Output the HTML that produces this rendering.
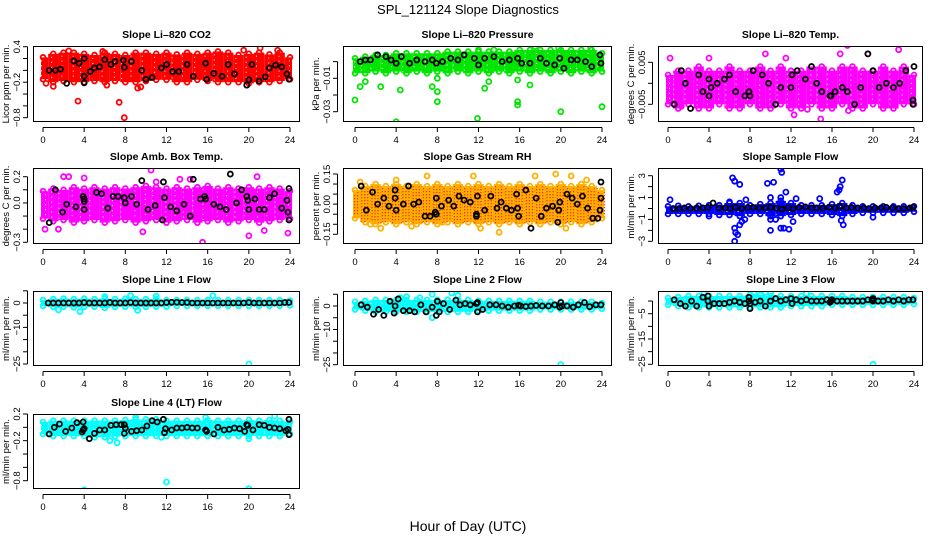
<!DOCTYPE html>
<html><head><meta charset="utf-8"><title>SPL_121124 Slope Diagnostics</title>
<style>
html,body{margin:0;padding:0;background:#fff;}
svg{display:block;font-family:"Liberation Sans",Arial,sans-serif;}
</style></head>
<body>
<svg id="chart" width="936" height="540" viewBox="0 0 936 540" xmlns="http://www.w3.org/2000/svg">
<rect x="0" y="0" width="936" height="540" fill="#fff"/>
<text x="468" y="14" text-anchor="middle" font-size="13">SPL_121124  Slope Diagnostics</text>
<text x="468" y="531" text-anchor="middle" font-size="14">Hour of Day (UTC)</text>
</svg>
<script>
// ---- data (per-hour band ranges of the dense cloud, outliers, and black points) ----
const binHours = [0,1,2,3,4,5,6,7,8,9,10,11,12,13,14,15,16,17,18,19,20,21,22,23,24];
const xTickValues = [0,4,8,12,16,20,24];

const co2Lo = [-0.15,-0.2,-0.18,-0.2,-0.2,-0.18,-0.2,-0.18,-0.2,-0.2,-0.18,-0.16,-0.16,-0.2,-0.2,-0.16,-0.18,-0.2,-0.2,-0.2,-0.22,-0.2,-0.2,-0.18,-0.15];
const co2Hi = [0.22,0.28,0.3,0.3,0.28,0.26,0.3,0.28,0.26,0.3,0.3,0.28,0.3,0.27,0.3,0.28,0.3,0.32,0.3,0.26,0.28,0.3,0.27,0.3,0.22];
const co2OutH = [0.3,1,3.4,7.4,7.9,9.2,9.5,2.5,5.8,6.2,19.5,21.1,22.8];
const co2OutV = [-0.22,-0.27,-0.52,-0.54,-0.8,-0.3,-0.28,0.33,0.32,-0.25,0.34,0.38,0.34];
const co2BlkH = [0.6,1.2,1.7,2.3,3,3.5,4,4,4,4.6,5,5.5,6,6.6,7,7.8,7.9,8.6,9.6,10,10.6,11.5,12,12.6,13.2,14,14.6,15.8,15.9,16.6,17.4,18,18.6,19.8,20,20.3,21,21.6,22,22.6,23.2,23.7,23.9];
const co2BlkV = [0,0,0.02,-0.22,0.16,0.12,0.2,-0.1,-0.21,-0.02,0.04,0.06,0.18,0.1,0.15,0.17,0.05,0.15,0,-0.15,-0.12,0.04,0.1,-0.02,-0.02,0.1,-0.1,0.12,-0.15,-0.05,-0.1,0.1,-0.06,-0.25,-0.16,0.1,-0.18,-0.11,0.04,0.09,0.06,-0.06,-0.15];

const prsLo = [-0.007,-0.007,-0.006,-0.007,-0.006,-0.007,-0.006,-0.007,-0.006,-0.007,-0.006,-0.007,-0.006,-0.007,-0.006,-0.007,-0.006,-0.007,-0.006,-0.007,-0.006,-0.007,-0.006,-0.007,-0.006];
const prsHi = [0.002,0.003,0.004,0.004,0.005,0.005,0.005,0.005,0.005,0.006,0.006,0.006,0.006,0.006,0.006,0.006,0.007,0.007,0.007,0.007,0.007,0.007,0.007,0.007,0.005];
const prsOutH = [0,0.5,1,2.5,4,4.4,7.5,8,8,8,11.9,12.6,13,15.8,15.8,15.8,17,20,24,17.5,12,13.5,19.8,22.9];
const prsOutV = [-0.023,-0.015,-0.012,-0.015,-0.036,-0.017,-0.015,-0.024,-0.018,-0.01,-0.034,-0.016,-0.012,-0.026,-0.024,-0.011,-0.014,-0.030,-0.027,0.009,0.007,0.007,0.008,0.008];
const prsBlkH = [0.5,1,1.5,2.2,3,3.5,4,4.5,5.3,6,6.8,7.5,7.9,8.5,9.3,10,10.6,11.6,12,12.6,13.5,14.3,15,15.8,16.2,17,18,18.6,19.4,19.9,20.3,21,21.6,22.4,23,23.8,23.9];
const prsBlkV = [0,0.001,0.001,0.004,0.003,0.001,-0.001,0.003,-0.001,0.001,0,0.001,-0.001,0,0.002,0.001,0.004,0.002,-0.002,0.002,0.003,0,0.001,0.002,-0.001,-0.001,0.002,-0.001,-0.002,0.002,-0.004,0.001,0.001,0,-0.003,0.004,-0.001];

const tmpLo = [-0.005,-0.006,-0.005,-0.006,-0.006,-0.005,-0.006,-0.006,-0.005,-0.006,-0.006,-0.005,-0.006,-0.006,-0.005,-0.006,-0.006,-0.005,-0.006,-0.006,-0.005,-0.006,-0.006,-0.005,-0.005];
const tmpHi = [0.002,0.003,0.003,0.004,0.003,0.003,0.004,0.003,0.003,0.004,0.003,0.004,0.003,0.003,0.004,0.004,0.003,0.004,0.004,0.003,0.003,0.004,0.003,0.004,0.002];
const tmpOutH = [17.5,22.5,0.2,4,11.5,19.5,12.3,14.9,17.6,1.3,9.5,13.6,16.8];
const tmpOutV = [0.009,0.008,0.006,0.006,0.006,0.007,-0.0075,-0.0085,-0.0065,-0.0055,0.007,-0.0062,0.007];
const tmpBlkH = [0.6,1.3,1.7,2.2,3,3.4,4,4,4.2,4.8,5.5,6,6.6,7.5,7.9,8,8.3,9.2,9.8,10.5,11,12,12.1,12.6,13.4,14,14.5,15,15.8,15.9,16.3,17,17.5,18.2,18.8,19.5,20,20.6,21.3,22,22.6,23.2,23.9,23.9,24];
const tmpBlkV = [-0.005,0.003,0,-0.006,0.002,-0.002,0.001,-0.003,-0.001,0,0.001,0.002,-0.002,-0.003,-0.002,-0.003,0.003,0.002,0,-0.005,-0.001,-0.001,0.002,0.003,0.001,0.004,0.0,-0.002,-0.003,-0.003,-0.002,-0.001,-0.002,-0.005,-0.001,0.007,0.003,-0.001,0,-0.001,0,0.003,-0.004,-0.005,0.004];

const ambLo = [-0.12,-0.14,-0.13,-0.15,-0.14,-0.13,-0.15,-0.14,-0.13,-0.15,-0.14,-0.13,-0.15,-0.14,-0.13,-0.15,-0.14,-0.13,-0.15,-0.14,-0.13,-0.15,-0.14,-0.13,-0.12];
const ambHi = [0.09,0.11,0.1,0.12,0.11,0.12,0.11,0.12,0.11,0.12,0.13,0.12,0.11,0.12,0.11,0.12,0.13,0.11,0.12,0.11,0.12,0.11,0.12,0.11,0.09];
const ambOutH = [0.2,1.5,2,2.5,10.5,15.5,20,20.8,23.8,9.7,14.3,13.3,4,11,21.5];
const ambOutV = [-0.2,-0.2,0.2,0.2,0.25,-0.3,-0.25,0.2,-0.23,-0.22,0.18,0.18,0.19,0.16,-0.21];
const ambBlkH = [0.6,1.2,1.9,2.3,3.2,3.9,4,4,4,5.2,5.7,6.3,6.8,7.3,7.9,8,8.6,9.1,9.6,10.2,10.9,11.6,11.7,11.8,12.4,13,13.7,14.3,14.6,15.3,15.7,15.8,16.6,17.2,17.8,18.2,18.8,19.3,19.8,19.9,20,20.6,21,21.5,22,22.5,23.2,23.7,23.8,23.9,23.9];
const ambBlkV = [-0.15,0.1,-0.07,-0.01,-0.03,0.05,0.03,0.01,-0.05,0.08,0.07,-0.04,0.05,0.05,0.04,0,0.05,-0.01,0.17,-0.05,-0.02,-0.13,0.16,0.04,-0.03,-0.06,-0.01,-0.1,0.18,0.03,0.05,0.03,-0.01,-0.03,-0.05,0.22,0,0.1,0.05,0.02,-0.05,0.03,-0.05,-0.05,0.04,0.07,-0.04,0.02,-0.07,-0.13,0.11];

const rhLo = [-0.07,-0.09,-0.1,-0.09,-0.1,-0.09,-0.1,-0.09,-0.1,-0.09,-0.1,-0.09,-0.1,-0.09,-0.1,-0.09,-0.1,-0.09,-0.1,-0.09,-0.1,-0.09,-0.1,-0.09,-0.07];
const rhHi = [0.07,0.09,0.1,0.09,0.1,0.09,0.1,0.09,0.1,0.09,0.1,0.09,0.1,0.09,0.1,0.09,0.1,0.09,0.1,0.09,0.1,0.09,0.1,0.09,0.07];
const rhOutH = [2.5,14,7,11.5,17.5,19.5,21,5.5,4,0.5,8.5,20.5,22.5,12.2,1.5];
const rhOutV = [-0.12,-0.14,0.14,0.14,0.14,0.15,0.14,-0.11,0.12,0.11,-0.09,-0.12,0.12,-0.12,-0.1];
const rhBlkH = [0.6,1.1,1.7,2.2,2.8,3.3,3.9,3.9,4,4.7,5.2,5.7,6.2,6.8,7.3,7.8,7.9,7.9,8.4,9.1,9.6,10.1,10.6,11.2,11.8,11.8,11.9,12.6,13.2,13.8,14.2,14.7,15.2,15.7,15.8,15.9,16.6,17.1,17.6,18.1,18.6,19.2,19.7,19.8,19.9,20.6,21.1,21.6,22.1,22.6,23.1,23.6,23.8,23.9,23.9];
const rhBlkV = [0.09,-0.03,0.06,0,0.03,-0.01,0.07,0.03,-0.03,0,0.09,0,0.01,-0.06,-0.06,-0.04,0.03,-0.05,-0.01,0.02,-0.01,0.04,0.02,0.01,-0.05,-0.06,0.04,-0.03,0.04,-0.02,0.01,-0.02,-0.03,0.05,-0.02,-0.06,0.07,-0.12,0.03,-0.06,-0.02,-0.01,-0.09,-0.03,0.01,0.05,0.03,0,0.04,-0.02,-0.07,-0.07,-0.03,0.03,0.11];

const smpLo = [-0.5,-0.5,-0.5,-0.5,-0.5,-0.6,-0.6,-0.7,-0.5,-0.5,-0.7,-0.7,-0.6,-0.5,-0.5,-0.5,-0.6,-0.7,-0.5,-0.4,-0.4,-0.4,-0.4,-0.4,-0.3];
const smpHi = [0.2,0.25,0.2,0.25,0.3,0.3,0.5,0.5,0.3,0.4,0.5,0.7,0.5,0.3,0.3,0.3,0.4,0.5,0.3,0.2,0.2,0.2,0.2,0.2,0.2];
const smpOutH = [6.3,6.5,7,6.5,6.6,6.8,6.5,7.5,7,9.7,10.3,11,11.1,11,11.3,11.8,10,10,10.5,12.2,11.5,11,16.5,16.8,17,16.9,17.1,10,14.8,0.2,6,7.2,4,20,12.5,16.7,7.6];
const smpOutV = [2.8,2.5,2.2,-1.8,-2.2,-2.4,-3,-1,-1.5,2.3,2.4,3.6,3.3,-1.8,-1.8,-1.9,-2.0,-1,-1,-1.2,1.5,1,1.5,2,2.6,-1.1,-1.5,1,0.9,0.8,0.6,-1.2,-0.7,-0.8,0.9,1.7,0.8];
const smpBlkH = [0.5,1.1,1.6,2.2,2.8,3.4,3.9,4.4,5,5.6,6.1,6.6,7.2,7.8,8.3,8.9,9.5,10,10.6,11.1,11.7,12.2,12.8,13.4,14,14.5,15.1,15.7,16.3,16.8,17.4,17.9,18.5,19.1,19.6,20.2,20.8,21.3,21.9,22.5,23,23.6,23.9];
const smpBlkV = [0,0,0.05,0,0.05,0.05,0.1,0.5,0.05,0.05,0,0.1,0,0.1,0.1,0.05,0.05,0.1,0.05,-0.05,0.05,0,0.1,0.15,0.05,0.05,0.05,0.1,0.05,0.2,0.05,0.1,0.05,0.05,0,0.05,0.05,0.1,0.05,0,0,0.05,0.1];

const l1Lo = [-1.2,-1.6,-1.5,-1.8,-1.6,-1.5,-2,-1.6,-1.5,-1.6,-1.6,-1.5,-1.5,-1.2,-1.2,-1.2,-1.2,-1.2,-1.2,-1.2,-1.2,-1.2,-1.2,-1.2,-1];
const l1Hi = [1.2,1.6,1.8,1.6,1.8,1.6,1.8,1.6,1.8,1.6,1.6,1.6,1.2,1.2,1.2,1.2,1.2,1.2,1.2,1.2,1.2,1.2,1.2,1.2,1];
const l1OutH = [20,8.5,16.5,3.6,6,1.5,9.2,11];
const l1OutV = [-25,3,3,-3.5,2.6,-2.8,-3,2.8];
const l1BlkH = [0.5,1,1.5,2,2.5,3,3.5,4,4.5,5,5.5,6,6.5,7,7.5,8,8.5,9,9.5,10,10.5,11,11.5,12,12.5,13,13.5,14,14.5,15,15.5,16,16.5,17,17.5,18,18.5,19,19.5,20,20.5,21,21.5,22,22.5,23,23.5,23.9];
const l1BlkV = [0,0,0,0,0,0,0,0.2,0,0,0,0,0.2,0,0,0,0.2,0,0,0,0,0,0,0.2,0.3,0.3,0.2,0.2,0,0,0,0,0,0,0,0,0,0,0,0.2,0,0,0,0,0,0,0.2,0.2];

const l2Lo = [-1.5,-2,-2.5,-2.5,-2.5,-2.5,-2.5,-2.5,-2.5,-2.5,-2.5,-2.5,-2,-2,-2,-2,-2,-2,-1.5,-1.5,-1.5,-1.5,-1.5,-1.5,-1.2];
const l2Hi = [1.8,2.2,2.6,2.6,2.6,2.6,2.6,2.6,2.6,2.6,2.6,2.6,2.2,2.2,2.2,2.2,2.2,2.2,1.8,1.8,1.8,1.8,1.8,1.8,1.2];
const l2OutH = [20,5,7.5,7.5,4.4,9.4,10,6.3];
const l2OutV = [-25,4,5,-5,3.5,5.5,4.5,3.5];
const l2BlkH = [0.6,1.2,1.8,2.3,2.8,3.4,3.8,3.9,4.2,4.7,5.3,5.8,6.4,6.9,7.5,7.9,8,8.2,8.6,9.2,9.8,10.2,10.7,11.2,11.8,11.9,11.9,12.4,13.1,13.7,14.3,14.9,15.5,15.9,16.1,16.6,17.1,17.6,18.2,18.8,19.4,19.9,20,20.1,20.6,21.2,21.7,22.3,22.8,23.4,23.9];
const l2BlkV = [0.5,-0.5,-3.5,-1.5,-4,2,-3,0,3,-2,-2,-2.5,0.5,-2.5,-0.5,-4,2,-2.5,1,-1.5,2.5,0.5,1,0.5,1,-2.5,1.5,-1.5,0.5,0.5,0,-0.5,0,0.3,0,-0.2,0,0.2,0,0,0.5,-0.5,1.5,0,0,-0.5,0.5,1.5,-0.3,0.5,0.5];

const l3Lo = [-1.5,-2,-2.5,-2.5,-2.5,-2.5,-2.5,-2.5,-2.5,-2.5,-2.5,-2.5,-2,-2,-2,-2,-1.5,-1.5,-1.5,-1.5,-1.5,-1.5,-1.5,-1.5,-1.2];
const l3Hi = [1.2,1.6,2,2,2,2,2,2,2.5,2.5,2,2,2,2,2,2,2,2,1.6,1.6,1.6,1.6,1.6,1.6,1.2];
const l3OutH = [20,8.4,9.5,10,3.5,13.5];
const l3OutV = [-25,3.5,3.5,3,3,3];
const l3BlkH = [0.6,1.2,1.7,2.3,2.8,3.4,3.9,3.9,4,4.5,5,5.5,6,6.5,7,7.5,7.9,7.9,8,8,8.5,9,9.5,10,10.5,11,11.5,12,12.1,12.5,13,13.5,14,14.5,15,15.5,15.8,15.9,16,16.5,17,17.5,18,18.5,19,19.5,19.9,20,20,20.5,21,21.5,22,22.5,23,23.5,23.9];
const l3BlkV = [0.5,-1,-2,0,-2,1.5,0,2,-2,-1,-1,-1,-0.5,0,-0.5,-1,1.5,0,-1,-3,-0.5,0,-2,0,1,0,0.5,1,-1,0.5,0,0.5,0,0,0,0.5,-0.5,0,0.5,0,0,0,0,0,0,0.5,0.5,1,0,0,0,0.5,0,0.5,0,0.5,0.5];

const l4Lo = [-0.1,-0.13,-0.13,-0.13,-0.13,-0.15,-0.15,-0.14,-0.13,-0.13,-0.13,-0.13,-0.13,-0.13,-0.13,-0.13,-0.13,-0.13,-0.13,-0.13,-0.13,-0.13,-0.13,-0.13,-0.1];
const l4Hi = [0.08,0.1,0.1,0.1,0.1,0.1,0.1,0.1,0.11,0.12,0.12,0.12,0.1,0.1,0.1,0.1,0.11,0.1,0.1,0.1,0.11,0.1,0.11,0.1,0.08];
const l4OutH = [4,12,20,7.2,6.5,9,22.5,20,15.8,11.5];
const l4OutV = [-0.94,-0.82,-0.92,-0.23,-0.2,0.15,0.17,-0.17,0.15,-0.15];
const l4BlkH = [0.6,1.1,1.6,2.2,2.8,3.3,3.8,3.9,3.9,4,4.5,5,5.5,6,6.6,7.1,7.6,7.9,7.9,8,8.6,9.1,9.6,10.1,10.6,11.1,11.7,11.8,11.9,12.5,13,13.5,14,14.5,15,15.8,15.9,16.6,17,17.6,18.1,18.6,19.1,19.6,19.8,19.9,20.4,21,21.5,22,22.5,23,23.6,23.8,23.9,23.9];
const l4BlkV = [-0.1,0,0.05,-0.06,-0.01,0.07,-0.07,0.08,-0.04,-0.02,-0.17,-0.09,-0.04,-0.04,0.03,0.04,0.04,0.04,-0.09,-0.01,-0.06,-0.05,-0.04,0.02,0.1,0.08,0.12,-0.08,-0.02,-0.04,-0.01,-0.01,0,-0.01,-0.01,-0.04,-0.06,-0.1,0,-0.04,-0.03,-0.01,-0.02,-0.06,0.04,0.03,-0.04,0.04,0.03,0,-0.01,-0.02,-0.05,-0.03,-0.11,0.12];

// ---- panel layout ----
const panels = [
 {name:'co2',title:'Slope Li\u2013820 CO2',ylab:'Licor ppm per min.',box:[33,46,300,122],x:[43,290],yr:[0.4,46.7,-0.8,117.7],ticks:[0.4,0.2,0,-0.2,-0.4,-0.6,-0.8],labs:[0.4,-0.2,-0.8],fmt:v=>v.toFixed(1),col:'#ff0000',lo:co2Lo,hi:co2Hi,oh:co2OutH,ov:co2OutV,bh:co2BlkH,bv:co2BlkV},
 {name:'pressure',title:'Slope Li\u2013820 Pressure',ylab:'kPa per min.',box:[343,46,612,122],x:[355,602],yr:[-0.01,78.3,-0.03,111.7],ticks:[0,-0.01,-0.02,-0.03],labs:[-0.01,-0.03],fmt:v=>v.toFixed(2),col:'#00e600',lo:prsLo,hi:prsHi,oh:prsOutH,ov:prsOutV,bh:prsBlkH,bv:prsBlkV},
 {name:'temp',title:'Slope Li\u2013820 Temp.',ylab:'degrees C per min.',box:[658,46,923,122],x:[668,914],yr:[0.005,62.3,-0.005,104.3],ticks:[0.005,0,-0.005],labs:[0.005,-0.005],fmt:v=>v.toFixed(3),col:'#ff00ff',lo:tmpLo,hi:tmpHi,oh:tmpOutH,ov:tmpOutV,bh:tmpBlkH,bv:tmpBlkV},
 {name:'amb-box-temp',title:'Slope Amb. Box Temp.',ylab:'degrees C per min.',box:[33,168,300,244],x:[43,290],yr:[0.2,176.7,-0.3,242.3],ticks:[0.2,0.1,0,-0.1,-0.2,-0.3],labs:[0.2,0,-0.3],fmt:v=>v.toFixed(1),col:'#ff00ff',lo:ambLo,hi:ambHi,oh:ambOutH,ov:ambOutV,bh:ambBlkH,bv:ambBlkV},
 {name:'gas-stream-rh',title:'Slope Gas Stream RH',ylab:'percent per min.',box:[343,168,612,244],x:[355,602],yr:[0.15,174,-0.15,234.3],ticks:[0.15,0.1,0.05,0,-0.05,-0.1,-0.15],labs:[0.15,0,-0.15],fmt:v=>v.toFixed(2),col:'#ffb000',dot:'#ff2000',lo:rhLo,hi:rhHi,oh:rhOutH,ov:rhOutV,bh:rhBlkH,bv:rhBlkV},
 {name:'sample-flow',title:'Slope Sample Flow',ylab:'ml/min per min.',box:[658,168,923,244],x:[668,914],yr:[3,175.7,-3,241.3],ticks:[3,2,1,0,-1,-2,-3],labs:[3,1,-1,-3],fmt:v=>String(v),col:'#0000ff',lo:smpLo,hi:smpHi,oh:smpOutH,ov:smpOutV,bh:smpBlkH,bv:smpBlkV},
 {name:'line1-flow',title:'Slope Line 1 Flow',ylab:'ml/min per min.',box:[33,291,300,366],x:[43,290],yr:[0,303,-25,364],ticks:[5,0,-5,-10,-15,-20,-25],labs:[0,-10,-25],fmt:v=>String(v),col:'#00ffff',lo:l1Lo,hi:l1Hi,oh:l1OutH,ov:l1OutV,bh:l1BlkH,bv:l1BlkV},
 {name:'line2-flow',title:'Slope Line 2 Flow',ylab:'ml/min per min.',box:[343,291,612,366],x:[355,602],yr:[0,306,-25,364.7],ticks:[5,0,-5,-10,-15,-20,-25],labs:[0,-10,-25],fmt:v=>String(v),col:'#00ffff',lo:l2Lo,hi:l2Hi,oh:l2OutH,ov:l2OutV,bh:l2BlkH,bv:l2BlkV},
 {name:'line3-flow',title:'Slope Line 3 Flow',ylab:'ml/min per min.',box:[658,291,923,366],x:[668,914],yr:[-5,313.7,-25,364.3],ticks:[0,-5,-10,-15,-20,-25],labs:[-5,-15,-25],fmt:v=>String(v),col:'#00ffff',lo:l3Lo,hi:l3Hi,oh:l3OutH,ov:l3OutV,bh:l3BlkH,bv:l3BlkV},
 {name:'line4-lt-flow',title:'Slope Line 4 (LT) Flow',ylab:'ml/min per min.',box:[33,414,300,489],x:[43,290],yr:[0.2,414,-0.8,480.7],ticks:[0.2,0,-0.2,-0.4,-0.6,-0.8],labs:[0.2,-0.2,-0.8],fmt:v=>v.toFixed(1),col:'#00ffff',lo:l4Lo,hi:l4Hi,oh:l4OutH,ov:l4OutV,bh:l4BlkH,bv:l4BlkV}
];

const NS='http://www.w3.org/2000/svg';
const svg=document.getElementById('chart');
function mk(tag,attrs,parent){const e=document.createElementNS(NS,tag);for(const k in attrs)e.setAttribute(k,attrs[k]);(parent||svg).appendChild(e);return e;}
function lab(v){return String(v).replace('-','\u2212');}

panels.forEach(p=>{
  const g=mk('g',{});
  
  
  const [bx0,by0,bx1,by1]=p.box;
  const xs=h=>p.x[0]+(p.x[1]-p.x[0])*h/24;
  const ys=v=>p.yr[1]+(v-p.yr[0])*(p.yr[3]-p.yr[1])/(p.yr[2]-p.yr[0]);
  const clipId='clip-'+p.name;
  const cp=mk('clipPath',{id:clipId},g);
  mk('rect',{x:bx0,y:by0,width:bx1-bx0,height:by1-by0},cp);
  const plot=mk('g',{'clip-path':'url(#'+clipId+')'},g);
  
  
  const dx=(p.x[1]-p.x[0])/24;
  binHours.forEach((h,i)=>{
    const x0=Math.max(xs(h)-dx*0.5,p.x[0]-2), x1=Math.min(xs(h)+dx*0.5,p.x[1]+2);
    const r=mk('rect',{x:x0,y:ys(p.hi[i]),width:x1-x0,height:ys(p.lo[i])-ys(p.hi[i]),fill:p.col},plot);
    
    
    if(p.dot){
      for(let yy=ys(p.hi[i])+2; yy<ys(p.lo[i]); yy+=3){
        for(let xx=x0+1; xx<x1; xx+=3){ mk('rect',{x:xx,y:yy,width:1.2,height:1.2,fill:p.dot},plot); }
      }
    } else {
      for(let yy=ys(p.hi[i])+3; yy<ys(p.lo[i])-2; yy+=5){
        mk('rect',{x:x0+((i+Math.round(yy))%5),y:yy,width:1,height:1,fill:'#fff'},plot);
      }
    }
    [p.hi[i],p.lo[i]].forEach(v=>{
      const c=mk('circle',{cx:xs(h),cy:ys(v),r:2.4,fill:'none',stroke:p.col,'stroke-width':1.8},plot);
      
      
    });
  });
  p.oh.forEach((h,i)=>{
    const c=mk('circle',{cx:xs(h),cy:ys(p.ov[i]),r:2.5,fill:'none',stroke:p.col,'stroke-width':1.8},plot);
    
    
  });
  p.bh.forEach((h,i)=>{
    const c=mk('circle',{cx:xs(h),cy:ys(p.bv[i]),r:2.5,fill:'none',stroke:'#000','stroke-width':1.8},plot);
    
    
  });
  const b=mk('rect',{x:bx0+0.5,y:by0+0.5,width:bx1-bx0-1,height:by1-by0-1,fill:'none',stroke:'#000','stroke-width':1},g);
  
  
  const xa=mk('g',{},g);
  
  
  mk('line',{x1:xs(0),x2:xs(24),y1:by1+5.5,y2:by1+5.5,stroke:'#000'},xa);
  xTickValues.forEach(t=>{
    mk('line',{x1:xs(t),x2:xs(t),y1:by1+5.5,y2:by1+10,stroke:'#000'},xa);
    const tx=mk('text',{x:xs(t),y:by1+21,'text-anchor':'middle','font-size':9.5},xa);
    tx.textContent=t;
    
    
  });
  const ya=mk('g',{},g);
  
  
  const yt=p.ticks.map(ys);
  mk('line',{x1:bx0-5.5,x2:bx0-5.5,y1:Math.min(...yt),y2:Math.max(...yt),stroke:'#000'},ya);
  p.ticks.forEach(t=>{mk('line',{x1:bx0-10,x2:bx0-5.5,y1:ys(t),y2:ys(t),stroke:'#000'},ya);});
  p.labs.forEach(t=>{
    const y=ys(t), x=bx0-13;
    const tx=mk('text',{x:x,y:y,'text-anchor':'middle','font-size':9.5,transform:'rotate(-90 '+x+' '+y+')'},ya);
    tx.textContent=lab(p.fmt(t));
    
    
  });
  const ylx=bx0-24, yly=(by0+by1)/2;
  const yl=mk('text',{x:ylx,y:yly,'text-anchor':'middle','font-size':9.5,transform:'rotate(-90 '+ylx+' '+yly+')'},g);
  yl.textContent=p.ylab;
  
  
  const tt=mk('text',{x:(bx0+bx1)/2,y:by0-8,'text-anchor':'middle','font-size':10.5,'font-weight':'bold'},g);
  tt.textContent=p.title;
  
  
});
</script>
</body></html>
